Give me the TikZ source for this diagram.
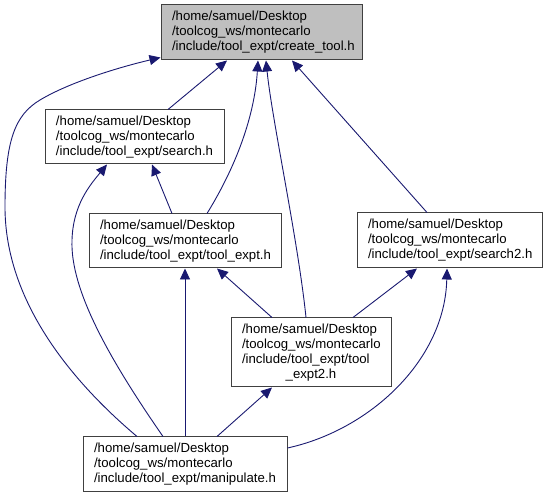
\documentclass[tikz,border=0pt]{standalone}
\usepackage{fontspec}
\setmainfont{Liberation Sans}
\usetikzlibrary{arrows.meta}
\definecolor{edgeblue}{HTML}{191970}
\definecolor{boxline}{HTML}{404040}
\definecolor{boxfill}{HTML}{BFBFBF}
\tikzset{
  filebox/.style n args={2}{draw=boxline, line width=1pt, fill=white, inner xsep=0pt, inner ysep=0pt,
    minimum width=#1pt, minimum height=#2pt, text width={#1pt-22pt}, align=left,
    font=\fontsize{13.2}{15}\selectfont},
  dep/.style={draw=edgeblue, line width=0.9pt, -{Triangle[length=11pt,width=10pt]}}
}
\begin{document}
\begin{tikzpicture}[x=1pt,y=-1pt]
\useasboundingbox (0,0) rectangle (547,497);
\node[filebox={201}{55}, fill=boxfill] (ct) at (261.5,32.5) {/home/samuel/Desktop\\/toolcog\_ws/montecarlo\\/include/tool\_expt/create\_tool.h};
\node[filebox={179}{54}] (s) at (134.5,137) {/home/samuel/Desktop\\/toolcog\_ws/montecarlo\\/include/tool\_expt/search.h};
\node[filebox={192}{54}] (te) at (185,241) {/home/samuel/Desktop\\/toolcog\_ws/montecarlo\\/include/tool\_expt/tool\_expt.h};
\node[filebox={185}{55}] (s2) at (449.5,240.5) {/home/samuel/Desktop\\/toolcog\_ws/montecarlo\\/include/tool\_expt/search2.h};
\node[filebox={160}{69}] (te2) at (311,352.5) {/home/samuel/Desktop\\/toolcog\_ws/montecarlo\\/include/tool\_expt/tool\\\makebox[\linewidth][c]{\_expt2.h}};
\node[filebox={204}{54}] (m) at (185,464) {/home/samuel/Desktop\\/toolcog\_ws/montecarlo\\/include/tool\_expt/manipulate.h};

% manipulate -> create_tool
\draw[dep] ([xshift=-48pt]m.north) .. controls (70,380) and (5,300) .. (5,207)
  .. controls (5,140) and (15,115) .. (40,100) .. controls (70,82) and (120,67) .. ([yshift=3pt]ct.south west);
% search -> create_tool
\draw[dep] ([xshift=33.5pt]s.north) -- ([xshift=-34.5pt]ct.south);
% tool_expt -> create_tool
\draw[dep] ([xshift=22pt]te.north) .. controls (240,160) and (255,110) .. ([xshift=-3.5pt]ct.south);
% tool_expt2 -> create_tool
\draw[dep] ([xshift=-5pt]te2.north) .. controls (298,240) and (272,120) .. ([xshift=4.5pt]ct.south);
% search2 -> create_tool
\draw[dep] ([xshift=-22.5pt]s2.north) -- ([xshift=30.5pt]ct.south);
% manipulate -> search
\draw[dep] ([xshift=-22pt]m.north) .. controls (110,360) and (70,290) .. (72,240)
  .. controls (73,205) and (90,185) .. ([xshift=-27.5pt]s.south);
% tool_expt -> search
\draw[dep] ([xshift=-13pt]te.north) -- ([xshift=17.5pt]s.south);
% manipulate -> tool_expt
\draw[dep] (m.north) -- (te.south);
% tool_expt2 -> tool_expt
\draw[dep] ([xshift=-39pt]te2.north) -- ([xshift=32pt]te.south);
% tool_expt2 -> search2
\draw[dep] ([xshift=42pt]te2.north) -- ([xshift=-32.5pt]s2.south);
% manipulate -> search2
\draw[dep] ([yshift=16pt]m.east) .. controls (370,430) and (445,360) .. ([xshift=-2.5pt]s2.south);
% manipulate -> tool_expt2
\draw[dep] ([xshift=32pt]m.north) -- ([xshift=-39pt]te2.south);
\end{tikzpicture}
\end{document}
